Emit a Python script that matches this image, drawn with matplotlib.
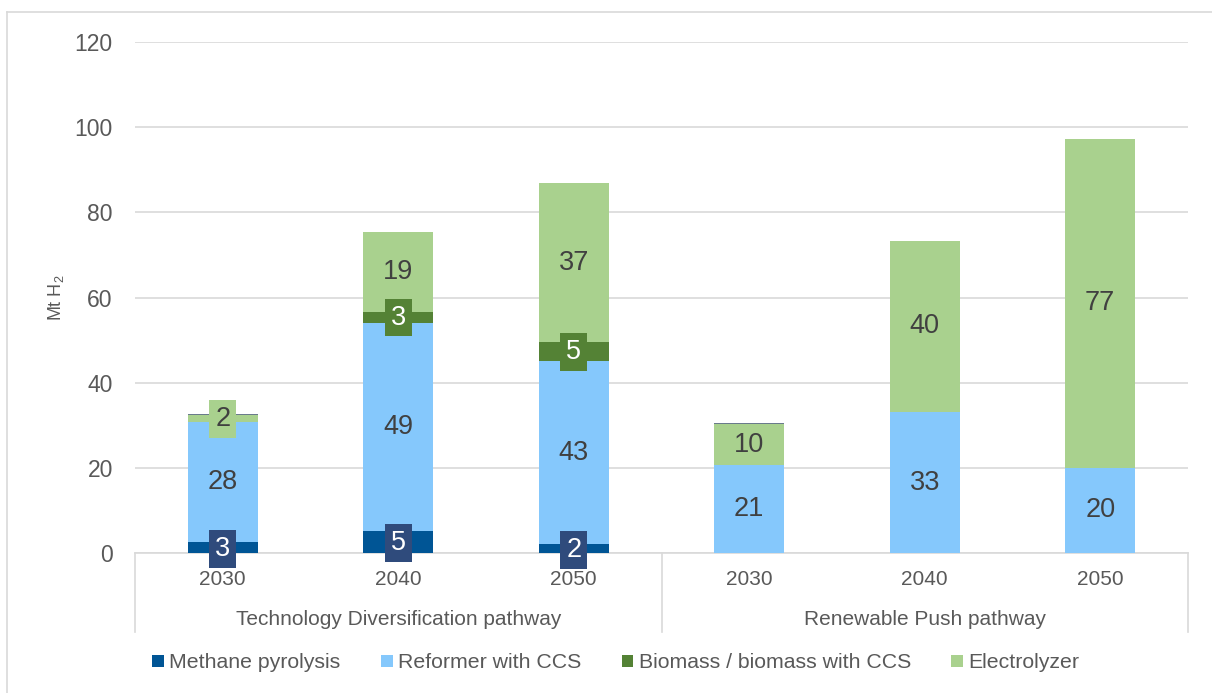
import numpy as np
import matplotlib.pyplot as plt
from matplotlib.lines import Line2D
from matplotlib.transforms import blended_transform_factory

plt.rcParams['font.family'] = ['Liberation Sans', 'DejaVu Sans']
plt.rcParams['mathtext.default'] = 'regular'

# data (Mt H2)
years = ['2030', '2040', '2050', '2030', '2040', '2050']
groups = ['Technology Diversification pathway', 'Renewable Push pathway']
methane = [2.6, 5.1, 2.1, 0, 0, 0]
reformer = [28.1, 48.9, 42.9, 20.6, 33.1, 20.0]
biomass = [0, 2.6, 4.6, 0, 0, 0]
electrolyzer = [1.6, 18.8, 37.2, 9.7, 40.2, 77.3]
other = [0.3, 0, 0, 0.3, 0, 0]

series = [
    ('Methane pyrolysis', methane, '#005595'),
    ('Reformer with CCS', reformer, '#85c8fc'),
    ('Biomass / biomass with CCS', biomass, '#548235'),
    ('Electrolyzer', electrolyzer, '#a9d18e'),
]

grid_c = '#d9d9d9'
txt_c = '#595959'
lab_c = '#404040'
lab_fs = 19.5

fig = plt.figure(figsize=(12.12, 6.93), dpi=100)
ax = fig.add_axes([135/1212, 1 - 553/693, (1188-135)/1212, (553-42)/693])

x = np.arange(len(years))
w = 0.40
bottom = np.zeros(len(years))
for name, vals, col in series:
    vals = np.array(vals, dtype=float)
    ax.bar(x, vals, w, bottom=bottom, color=col, label=name, zorder=3)
    for i, v in enumerate(vals):
        if v <= 0:
            continue
        yc = bottom[i] + v / 2
        s = f'{v:.0f}'
        if name == 'Methane pyrolysis':
            ax.text(x[i], yc - 0.3, s, ha='center', va='center', fontsize=lab_fs, color='white', zorder=5,
                    bbox=dict(boxstyle='square,pad=0.22', fc='#2f4b7c', ec='none'))
        elif name == 'Biomass / biomass with CCS':
            ax.text(x[i], yc, s, ha='center', va='center', fontsize=lab_fs, color='white', zorder=5,
                    bbox=dict(boxstyle='square,pad=0.22', fc='#548235', ec='none'))
        elif v < 5:
            ax.text(x[i], yc, s, ha='center', va='center', fontsize=lab_fs, color=lab_c, zorder=5,
                    bbox=dict(boxstyle='square,pad=0.22', fc=col, ec='none'))
        else:
            ax.text(x[i], yc, s, ha='center', va='center', fontsize=lab_fs, color=lab_c, zorder=5)
    bottom += vals
ax.bar(x, other, w, bottom=bottom, color='#6a7b8c', zorder=3)

ax.set_xlim(-0.5, 5.5)
ax.set_ylim(0, 120)
ax.set_yticks(range(0, 121, 20))
ax.grid(axis='y', color=grid_c, lw=1.2, zorder=0)
for sp in ['top', 'right', 'left']:
    ax.spines[sp].set_visible(False)
ax.spines['bottom'].set_color(grid_c)
ax.spines['bottom'].set_linewidth(1.2)
ax.tick_params(axis='y', length=0, labelsize=16.5, labelcolor=txt_c, pad=16)
ax.set_xticks(x)
ax.set_xticklabels(years)
ax.tick_params(axis='x', length=0, labelsize=15, labelcolor=txt_c, pad=12)
ax.set_ylabel('Mt H$_2$', fontsize=13, color=txt_c)
ax.yaxis.set_label_coords(-0.066, 0.5)

# two-level category axis
tr = blended_transform_factory(ax.transData, ax.transAxes)
for xs in [-0.5, 2.5, 5.5]:
    ax.add_line(Line2D([xs, xs], [0, -0.155], transform=tr, color=grid_c, lw=1.2, clip_on=False))
ax.text(1, -0.13, groups[0], transform=tr, ha='center', va='center', fontsize=15, color=txt_c)
ax.text(4, -0.13, groups[1], transform=tr, ha='center', va='center', fontsize=15, color=txt_c)

# chart border
fig.add_artist(Line2D([7/1212, 1], [1 - 12/693] * 2, color=grid_c, lw=1.2))
fig.add_artist(Line2D([7/1212] * 2, [0, 1 - 12/693], color=grid_c, lw=1.2))

leg = fig.legend(loc='center', bbox_to_anchor=(0.508, 1 - 663/693), ncol=4, frameon=False,
                 fontsize=15.3, handlelength=0.55, handleheight=0.55, handletextpad=0.25,
                 columnspacing=1.9, labelcolor=txt_c)

plt.savefig('out.png', dpi=100)
